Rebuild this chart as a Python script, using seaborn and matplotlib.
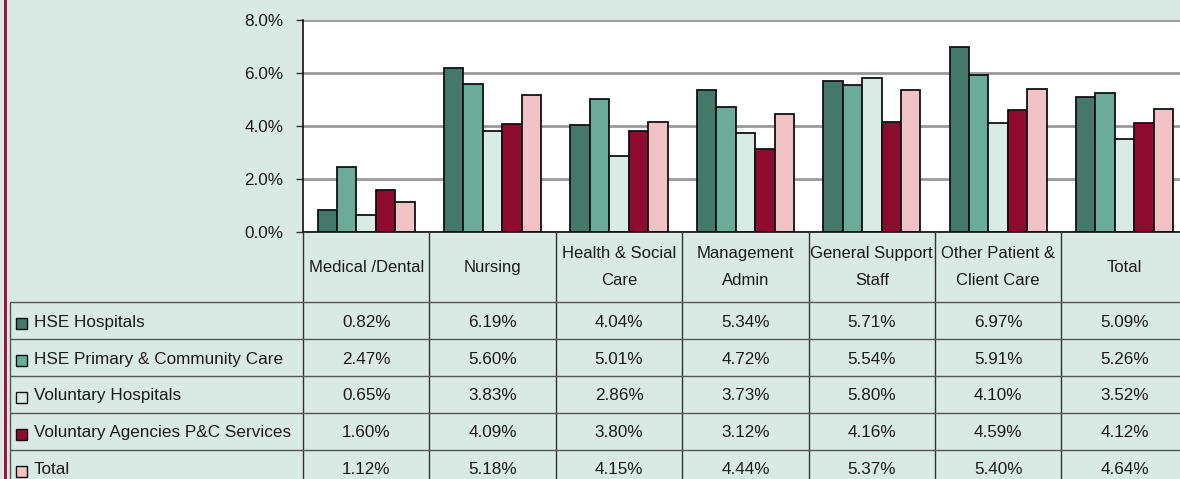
import pandas as pd
import matplotlib.pyplot as plt
import seaborn as sns
from matplotlib.patches import Rectangle
from matplotlib.ticker import FuncFormatter

# Data
categories = ['Medical /Dental', 'Nursing', 'Health & Social\nCare', 'Management\nAdmin',
              'General Support\nStaff', 'Other Patient &\nClient Care', 'Total']
series = ['HSE Hospitals', 'HSE Primary & Community Care', 'Voluntary Hospitals',
          'Voluntary Agencies P&C Services', 'Total']
hse_hospitals = [0.82, 6.19, 4.04, 5.34, 5.71, 6.97, 5.09]
hse_primary = [2.47, 5.60, 5.01, 4.72, 5.54, 5.91, 5.26]
voluntary_hospitals = [0.65, 3.83, 2.86, 3.73, 5.80, 4.10, 3.52]
voluntary_agencies = [1.60, 4.09, 3.80, 3.12, 4.16, 4.59, 4.12]
total = [1.12, 5.18, 4.15, 4.44, 5.37, 5.40, 4.64]
values = [hse_hospitals, hse_primary, voluntary_hospitals, voluntary_agencies, total]
colors = ['#44786a', '#6aab9a', '#d9ebe5', '#8e0a2e', '#f2c3c6']

rows = []
for s, vals in zip(series, values):
    for c, v in zip(categories, vals):
        rows.append({'category': c, 'series': s, 'value': v})
df = pd.DataFrame(rows)

sns.set_style('white')
plt.rcParams['font.family'] = ['Liberation Sans', 'DejaVu Sans']

bg = '#d9eae4'
W, H = 1180, 479
fig = plt.figure(figsize=(W / 100, H / 100), dpi=100, facecolor=bg)
fs = 12.3

# pixel layout
left_px, top_px, zero_px = 303, 20, 232
col_px = 126.4
xr = -0.5 + (W - left_px) / col_px

ax = fig.add_axes([left_px / W, 1 - zero_px / H, (W - left_px) / W, (zero_px - top_px) / H])
ax.set_facecolor('white')
sns.barplot(data=df, x='category', y='value', hue='series', hue_order=series,
            order=categories, palette=colors, edgecolor='#111111', linewidth=1.3,
            width=0.77, saturation=1, legend=False, ax=ax)
ax.set_xlim(-0.5, xr)
ax.set_ylim(0, 8)
ax.set_yticks([0, 2, 4, 6, 8])
ax.yaxis.set_major_formatter(FuncFormatter(lambda v, p: f'{v:.1f}%'))
ax.set_xticks([])
ax.set_xlabel('')
ax.set_ylabel('')
ax.yaxis.grid(True, color='#999999', linewidth=2)
ax.set_axisbelow(True)
for side in ['top', 'right']:
    ax.spines[side].set_visible(False)
for side in ['left', 'bottom']:
    ax.spines[side].set_color('#111111')
    ax.spines[side].set_linewidth(1.2)
ax.tick_params(axis='y', left=True, length=5, width=1, color='#333333',
               labelsize=fs, labelcolor='#1a1a1a', pad=9)

# table below the chart
tab_h = H - zero_px
axt = fig.add_axes([left_px / W, 0, (W - left_px) / W, tab_h / H])
axt.set_xlim(-0.5, xr)
axt.set_ylim(tab_h, 0)
axt.axis('off')

x_left = -0.5 - (left_px - 10) / col_px
header_h = 70.3
row_h = 36.8
line_c = '#555555'

for i in range(len(categories) + 1):
    axt.vlines(i - 0.5, 0, tab_h, color='#333333', linewidth=1, clip_on=False)
axt.vlines(x_left, header_h, tab_h, color=line_c, linewidth=1, clip_on=False)
for r in range(len(series)):
    axt.hlines(header_h + r * row_h, x_left, xr, color=line_c, linewidth=1, clip_on=False)

for i, c in enumerate(categories):
    axt.text(i, header_h / 2, c, ha='center', va='center', fontsize=fs - 0.3,
             color='#1a1a1a', linespacing=2.0)

for r, (s, vals, col) in enumerate(zip(series, values, colors)):
    yc = header_h + r * row_h + 20
    for i, v in enumerate(vals):
        axt.text(i, yc, f'{v:.2f}%', ha='center', va='center', fontsize=fs, color='#1a1a1a')
    key_x = -0.5 - (left_px - 16) / col_px
    axt.add_patch(Rectangle((key_x, yc - 4), 11 / col_px, 11, facecolor=col,
                            edgecolor='#111111', linewidth=1, clip_on=False))
    axt.text(-0.5 - (left_px - 34) / col_px, yc, s, ha='left', va='center',
             fontsize=fs, color='#1a1a1a', clip_on=False)

# red border on the left
fig.add_artist(Rectangle((4 / W, 0), 3 / W, 1, transform=fig.transFigure,
                         facecolor='#9b1540', edgecolor='none'))

fig.savefig('out.png', dpi=100, facecolor=bg)
